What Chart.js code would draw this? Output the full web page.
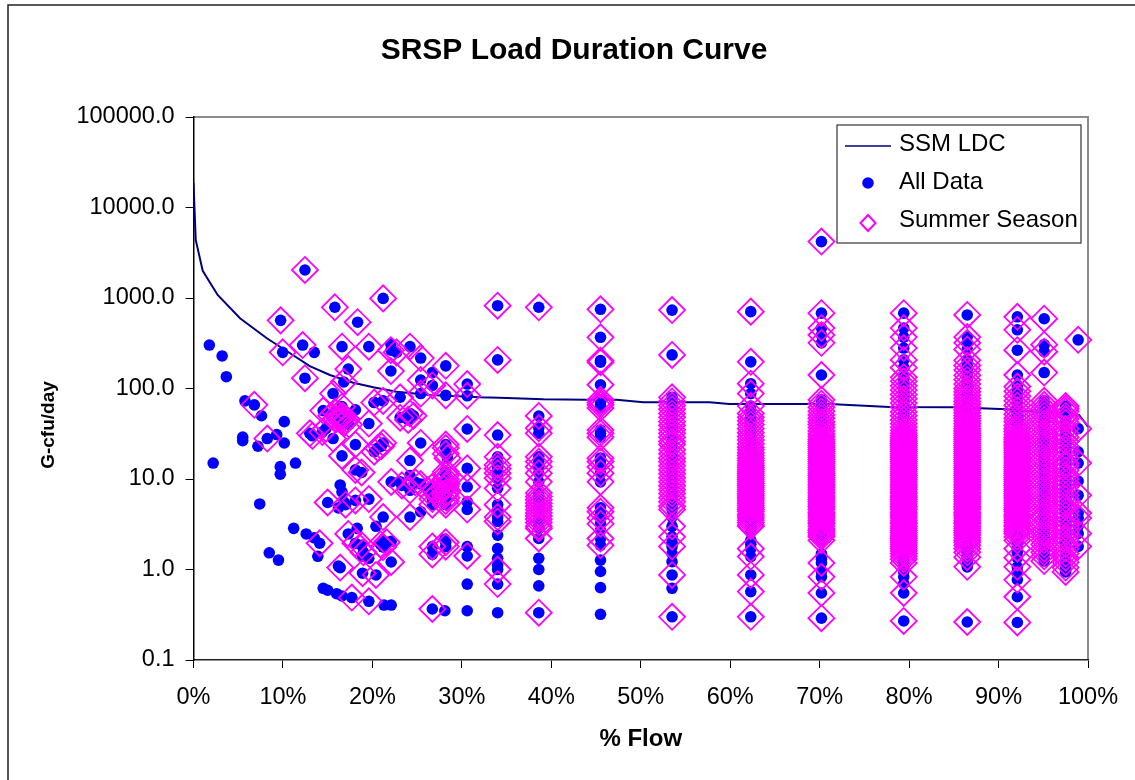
<!DOCTYPE html>
<html>
<head>
<meta charset="utf-8">
<title>SRSP Load Duration Curve</title>
<script src="https://cdn.jsdelivr.net/npm/chart.js@4/dist/chart.umd.min.js"></script>
<style>
  html, body { margin: 0; padding: 0; background: #fff; overflow: hidden; }
  canvas { display: block; }
</style>
</head>
<body>
<canvas id="myChart" width="1135" height="780"></canvas>
<script>
const chartTitle = "SRSP Load Duration Curve";
const xTitle = "% Flow";
const yTitle = "G-cfu/day";
const yTicks = [0.1, 1, 10, 100, 1000, 10000, 100000];

// SSM LDC curve
const ldcFlow = [0, 0.25, 1.03, 2.7, 5.2, 8.2, 10.8, 13, 15.25, 17.85, 20.1, 22.7, 26.4, 32, 34.2, 39.1, 43.9, 47.3, 50.3, 57.7, 59.9, 71.1, 77.8, 85.1, 90.9, 99, 100];
const ldcLoad = [18800, 4380, 2000, 1080, 597, 359, 245, 177, 141, 116, 103, 92, 85, 80, 79, 76, 75, 75, 70.6, 70.6, 67.4, 67.4, 62.5, 62, 59, 51, 38];

// scattered low flow samples, [flow, load]
const lowFlowSummer = [
  [6.8,66],[8.25,28],[12.46,2040],[21.2,990],[15.8,790],[18.35,540],[9.74,566],[9.97,251],[12.2,302],[16.6,290],[19.6,290],
  [22.07,265],[22.7,250],[24.2,290],[25.4,217],[28.2,178],[12.46,130],[17.3,164],[22.07,156],[25.4,124],[26.7,108],[28.2,84],
  [25.4,88],[23.1,80],[21.2,73],[20.2,70],[16.8,118],[15.6,88],[14.5,57],[16.6,63],[15.4,50],[15.8,55],[16,46],[16.2,52],
  [16.4,48],[16.5,44],[16.7,50],[16.9,42],[17.1,46],[17.4,40],[13,32],[13.3,30],[14.4,33],[14.8,36],[15.6,28],[18.1,24],
  [19.6,41],[21.2,25],[20.2,20],[20.6,22],[21,23],[16.6,18],[25.4,25],[24.2,16],[28.2,24],[28.2,22],[28.2,19],[28.4,17],
  [18.1,12.6],[18.8,11.8],[23.1,47.6],[24.2,53],[24,45],[24.6,50],[15,5.5],[18.1,5.8],[19.6,6],[17,5.2],[21.2,3.8],[24.2,3.8],
  [22.1,9.3],[24.2,7.5],[25.4,8.8],[24.8,9.2],[23.3,8.5],[26.7,8.2],[26.2,7.5],[27,7.5],[27.2,6.8],[26.7,6],[26.7,5.2],
  [28.2,12],[28.2,11],[28.2,10],[28.1,9.4],[28.3,8.8],[28.2,8.3],[28,7.8],[28.4,7.4],[28.2,7],[28.1,6.6],[28.3,6.2],[28.2,5.7],[28.2,5.2],
  [17.3,2.47],[18.1,1.95],[18.8,1.85],[14.1,1.95],[21.2,1.77],[21.6,2],[20.9,1.9],[19,1.55],[22.1,1.21],[16.4,1.05],[18.9,0.91],
  [20.4,0.87],[26.7,1.79],[26.7,1.47],[28.2,1.79],[28.2,2],[17.7,0.49],[19.6,0.445],[26.7,0.366]
];
const lowFlowAllOnly = [
  [1.77,302],[3.2,229],[3.67,135],[5.75,73],[7.6,50],[10.15,43],[5.5,29],[5.5,26.5],[7.2,23],[9.3,31],[10.15,25],[2.2,15],
  [9.7,13.7],[9.7,11.3],[11.4,15],[13.5,251],[26.7,150],[22.07,310],[20.2,70],[18.1,58],[16.4,8.6],[16.6,7.2],[16.2,4.8],[16.8,5.6],
  [7.4,5.3],[8.47,1.53],[9.5,1.27],[11.2,2.85],[12.6,2.47],[13.5,2.24],[13.9,1.4],[14.5,0.62],[15,0.59],[16,0.54],[16.6,0.51],
  [21.3,0.405],[22.1,0.405],[28.1,0.35],[25.4,4.35],[20.4,3],[18.3,2.85],[21.2,2.05],[22.1,2.05],[18.9,1.4],[19.6,1.33],[16.2,1.09],
  [28.1,2.15],[23.1,9.3],[24.2,10.9],[28.1,11.6]
];

// repeated flow intervals, one list of summer loads and one of the other samples per interval
const flowBins = [30.6, 34, 38.6, 45.5, 53.5, 62.3, 70.2, 79.4, 86.5, 92.1, 95.1, 97.5, 98.9];

const summer31 = [112, 83, 35.7, 13.1, 8.2, 4.6, 1.41];
const summer34 = [822, 207, 30.6, 17.6, 14.3, 13, 11.6, 10.2, 7.9, 5.2, 3.8, 3.4, 1, 0.69];
const summer39 = [790, 49.7, 36.5, 32, 17.6, 15.6, 13.7, 11.6, 9.3, 7, 6.4, 5.9, 5.4, 5, 4.6, 4.2, 3.9, 3.6, 3.3, 3, 2.85, 2.2, 0.333];
const summer46 = [750, 368, 203, 195, 110, 75, 70, 66, 61, 34.7, 32, 29, 17, 15.6, 13.6, 11.6, 9.3, 4.8, 4.35, 3.7, 3.2, 2.2, 1.85];
const summer54 = [735, 235, 80, 72, 65, 59, 53, 48, 43, 39, 35, 32, 29, 26, 24, 21, 19, 17, 15.5, 14, 12.6, 11.4, 10.3, 9.3, 8.4, 7.6, 6.9,
  6.2, 5.6, 5, 4.6, 3, 2.3, 1.8, 0.87, 0.3];
const summer62 = [707, 197, 113, 88, 64, 53, 48, 44, 40, 36, 32.5, 29.5, 27, 24.5, 22.5, 21, 19.5, 18.2, 17, 16, 15, 14.2, 13.5, 12.8, 12.2, 11.6,
  11, 10.4, 9.9, 9.4, 8.9, 8.5, 8.1, 7.7, 7.3, 6.9, 6.6, 6.3, 6, 5.7, 5.4, 5.1, 4.8, 4.6, 4.4, 4.1, 3.9, 3.7, 3.5, 3.3, 3.1, 3, 1.7, 1.39, 0.87, 0.57, 0.3];
const summer70 = [4200, 680, 465, 390, 320, 141, 75, 68, 62, 56, 51, 47, 43, 40, 37, 34, 31.5, 29.5, 27.5, 26, 24.7, 23.5,
  22.3, 21.2, 20.2, 19.2, 18.2, 17.3, 16.4, 15.6, 14.8, 14, 13.3, 12.7, 12, 11.4, 10.9, 10.3, 9.8, 9.3, 8.8, 8.4, 8, 7.6, 7.2, 6.9, 6.5, 6.2,
  5.9, 5.6, 5.3, 5, 4.8, 4.6, 4.3, 4.1, 3.9, 3.7, 3.5, 3.3, 3.2, 3, 2.8, 2.7, 2.55, 2.4, 2.3, 2.1, 1.18, 0.83, 0.55, 0.29];
const summer79 = [680, 465, 370, 280, 207, 170, 133, 120, 107, 96, 86, 77, 69, 62, 55, 50, 45, 41, 37.5, 34.5, 32, 30, 28.5, 27,
  26, 24.7, 23.5, 22.3, 21.2, 20.2, 19.2, 18.2, 17.3, 16.4, 15.6, 14.8, 14, 13.3, 12.7, 12, 11.4, 10.9, 10.3, 9.8, 9.3, 8.8, 8.4, 8, 7.6, 7.2,
  6.9, 6.5, 6.2, 5.9, 5.6, 5.3, 5, 4.8, 4.6, 4.3, 4.1, 3.9, 3.7, 3.5, 3.3, 3.2, 3, 2.85, 2.7, 2.55, 2.4, 2.3, 2.2, 2.1, 2, 1.9, 1.8, 1.7, 1.6,
  1.5, 1.4, 1.3, 1.18, 0.83, 0.55, 0.27];
const summer87 = [650, 370, 320, 270, 205, 180, 160, 140, 125, 112, 100, 92, 85, 78, 72, 67, 62, 58, 54, 50, 47, 44, 41, 38.5, 36, 34, 32, 30.5,
  29, 27.5, 26, 24.7, 23.5, 22.3, 21.2, 20.2, 19.2, 18.2, 17.3, 16.4, 15.6, 14.8, 14, 13.3, 12.7, 12, 11.4, 10.9, 10.3, 9.8, 9.3, 8.8, 8.4, 8, 7.6,
  7.2, 6.9, 6.5, 6.2, 5.9, 5.6, 5.3, 5, 4.8, 4.6, 4.3, 4.1, 3.9, 3.7, 3.5, 3.3, 3.2, 3, 2.85, 2.7, 2.55, 2.4, 2.25, 2.1, 2, 1.85, 1.7, 1.55, 1.37, 1.07, 0.263];
const summer92 = [620, 445, 265, 141, 105, 93, 82, 73, 65, 58, 52, 47, 43, 39, 36, 33.5, 31, 29, 27.5, 26, 25, 23.8, 22.6, 21.5, 20.5,
  19.5, 18.5, 17.5, 16.6, 15.8, 15, 14.2, 13.5, 12.8, 12.2, 11.6, 11, 10.4, 9.9, 9.4, 8.9, 8.5, 8.1, 7.7, 7.3, 6.9, 6.6, 6.3, 6, 5.7, 5.4, 5.1, 4.8,
  4.6, 4.4, 4.1, 3.9, 3.7, 3.5, 3.3, 3.1, 3, 2.8, 2.65, 2.5, 2.3, 2.1, 1.7, 1.35, 1.07, 0.77, 0.5, 0.26];
const summer95 = [590, 305, 255, 150, 73, 66, 60, 55, 50, 45, 41, 37, 33, 30, 27.5, 25, 23, 21, 19, 17, 15.5, 14, 12.8, 11.6, 10.5, 9.5, 8.7, 7.9, 7.2,
  6.5, 5.9, 5.4, 4.9, 4.4, 4, 3.7, 3.3, 3, 2.7, 2.5, 2.3, 2.1, 1.9, 1.7, 1.55, 1.4, 1.24];
const summer98 = [64, 60, 56, 50, 46, 42, 36, 32, 29, 26, 23, 21, 19, 17, 15, 14, 12.5, 11.2, 10, 9, 8.2, 7.4, 6.6, 6, 5.4, 4.9, 4.4, 4, 3.6, 3.2, 2.9,
  2.6, 2.3, 2.1, 1.9, 1.7, 1.5, 1.35, 1.2, 1.05, 0.94];
const summer99 = [345, 36, 15, 6.6, 4.2, 3.7, 2.5, 1.8];

const other31 = [5.6, 1.79, 0.69, 0.35];
const other34 = [4.55, 2.4, 1.7, 1.33, 1.12, 0.333];
const other39 = [1.33, 1, 0.66];
const other46 = [4, 2.7, 1.27, 0.95, 0.63, 0.32];
const other54 = [3.8, 2, 1.5, 1.22, 0.62];
const other62 = [2.6, 2.1, 1.9];
const other70 = [1.5, 1.3, 0.95];
const other79 = [1.05, 0.95, 0.7];
const other87 = [1.2];
const other92 = [1.9, 1.55, 0.95];
const other95 = [1.3];
const other98 = [1];
const other99 = [20, 9.5, 3];

const summerByBin = [summer31, summer34, summer39, summer46, summer54, summer62, summer70, summer79, summer87, summer92, summer95, summer98, summer99];
const otherByBin = [other31, other34, other39, other46, other54, other62, other70, other79, other87, other92, other95, other98, other99];

function binPoints(lists) {
    const pts = [];
    lists.forEach(function (loads, i) {
        loads.forEach(function (v) { pts.push({ x: flowBins[i], y: v }); });
    });
    return pts;
}

function pairPoints(pairs) {
    return pairs.map(function (p) { return { x: p[0], y: p[1] }; });
}

const summerPoints = pairPoints(lowFlowSummer).concat(binPoints(summerByBin));
const allPoints = pairPoints(lowFlowAllOnly).concat(binPoints(otherByBin), summerPoints);
const ldcPoints = ldcFlow.map(function (f, i) { return { x: f, y: ldcLoad[i] }; });

const fontName = "'Liberation Sans', Arial, sans-serif";

// small canvases for the legend, so the line key can be wider than the markers
function legendSwatch(draw) {
    const c = document.createElement('canvas');
    c.width = 50;
    c.height = 30;
    draw(c.getContext('2d'));
    return c;
}
const lineSwatch = legendSwatch(function (g) {
    g.strokeStyle = '#000080';
    g.lineWidth = 1.5;
    g.beginPath(); g.moveTo(2, 17); g.lineTo(48, 17); g.stroke();
});
const dotSwatch = legendSwatch(function (g) {
    g.fillStyle = '#0000ff';
    g.beginPath(); g.arc(25, 16, 5.8, 0, Math.PI * 2); g.fill();
});
const diamondSwatch = legendSwatch(function (g) {
    g.strokeStyle = '#ff00ff';
    g.lineWidth = 2;
    g.beginPath(); g.moveTo(25, 10); g.lineTo(32.5, 18); g.lineTo(25, 26); g.lineTo(17.5, 18); g.closePath(); g.stroke();
});
const swatches = [lineSwatch, dotSwatch, diamondSwatch];

const framePlugin = {
    id: 'frame',
    beforeDraw: function (chart) {
        const ctx = chart.ctx, a = chart.chartArea;
        ctx.save();
        ctx.fillStyle = '#fff';
        ctx.fillRect(0, 0, chart.width, chart.height);
        // outer chart border, only top and left are in the picture
        ctx.strokeStyle = '#222';
        ctx.lineWidth = 1.5;
        ctx.beginPath();
        ctx.moveTo(8, chart.height);
        ctx.lineTo(8, 5);
        ctx.lineTo(chart.width, 5);
        ctx.stroke();
        // gray top and right edge of plot area
        ctx.strokeStyle = '#8c8c8c';
        ctx.lineWidth = 2;
        ctx.beginPath();
        ctx.moveTo(a.left, a.top);
        ctx.lineTo(a.right, a.top);
        ctx.lineTo(a.right, a.bottom);
        ctx.stroke();
        // legend box
        ctx.strokeStyle = '#333';
        ctx.lineWidth = 1.2;
        ctx.strokeRect(837, 125, 244, 118);
        ctx.restore();
    },
    afterLayout: function (chart) {
        // legend sits inside the plot area, bottom is left roomy so it stays in one column
        const lg = chart.legend;
        lg.left = 835;
        lg.top = 118;
        lg.right = 1081;
        lg.bottom = 400;
    },
    afterDraw: function (chart) {
        // rotated axis title sits below the middle of the axis in the original
        const ctx = chart.ctx;
        ctx.save();
        ctx.translate(49, 425);
        ctx.rotate(-Math.PI / 2);
        ctx.font = "bold 19px " + fontName;
        ctx.fillStyle = '#000';
        ctx.textAlign = 'center';
        ctx.textBaseline = 'middle';
        ctx.fillText(yTitle, 0, 0);
        ctx.restore();
    }
};

const ctx = document.getElementById('myChart').getContext('2d');
const myChart = new Chart(ctx, {
    type: 'scatter',
    data: {
        datasets: [{
            label: 'SSM LDC',
            data: ldcPoints,
            showLine: true,
            borderColor: '#000080',
            borderWidth: 2,
            pointRadius: 0,
            tension: 0,
            order: 3
        }, {
            label: 'All Data',
            data: allPoints,
            backgroundColor: '#0000ff',
            borderWidth: 0,
            pointRadius: 5.8,
            pointStyle: 'circle',
            clip: false,
            order: 2
        }, {
            label: 'Summer Season',
            data: summerPoints,
            backgroundColor: 'rgba(0,0,0,0)',
            borderColor: '#ff00ff',
            borderWidth: 1.8,
            pointRadius: 13,
            pointStyle: 'rectRot',
            clip: false,
            order: 1
        }]
    },
    plugins: [framePlugin],
    options: {
        responsive: false,
        animation: false,
        layout: { autoPadding: false, padding: { left: 60, right: 47, top: 0, bottom: 0 } },
        plugins: {
            title: {
                display: true,
                text: chartTitle,
                color: '#000',
                font: { family: fontName, size: 30, weight: 'bold', lineHeight: 1.2 },
                padding: { top: 33, bottom: 48 }
            },
            legend: {
                position: 'chartArea',
                align: 'start',
                labels: {
                    usePointStyle: true,
                    pointStyleWidth: 38,
                    padding: 14,
                    color: '#000',
                    font: { family: fontName, size: 24 },
                    generateLabels: function (chart) {
                        return chart.data.datasets.map(function (d, i) {
                            return { text: d.label, datasetIndex: i, pointStyle: swatches[i], fontColor: '#000', lineWidth: 0 };
                        });
                    }
                }
            },
            tooltip: { enabled: false }
        },
        scales: {
            x: {
                type: 'linear',
                min: 0,
                max: 100,
                afterFit: function (s) { s.height = 120; },
                grid: { drawOnChartArea: false, color: '#000', tickLength: 8 },
                border: { color: '#222', width: 1.5 },
                ticks: {
                    stepSize: 10,
                    color: '#000',
                    padding: 15,
                    maxRotation: 0,
                    autoSkip: false,
                    font: { family: fontName, size: 23.5 },
                    callback: function (v) { return v + '%'; }
                },
                title: {
                    display: true,
                    text: xTitle,
                    color: '#000',
                    font: { family: fontName, size: 24, weight: 'bold' },
                    padding: { top: 9, bottom: 26 }
                }
            },
            y: {
                type: 'logarithmic',
                min: 0.1,
                max: 100000,
                afterFit: function (s) { s.width = 133.5; },
                afterBuildTicks: function (s) {
                    s.ticks = yTicks.map(function (v) { return { value: v }; });
                },
                grid: { drawOnChartArea: false, color: '#000', tickLength: 8 },
                border: { color: '#000', width: 1.5 },
                ticks: {
                    color: '#000',
                    padding: 11,
                    autoSkip: false,
                    font: { family: fontName, size: 23.5 },
                    callback: function (v) { return Number(v).toFixed(1); }
                }
            }
        }
    }
});
</script>
</body>
</html>
